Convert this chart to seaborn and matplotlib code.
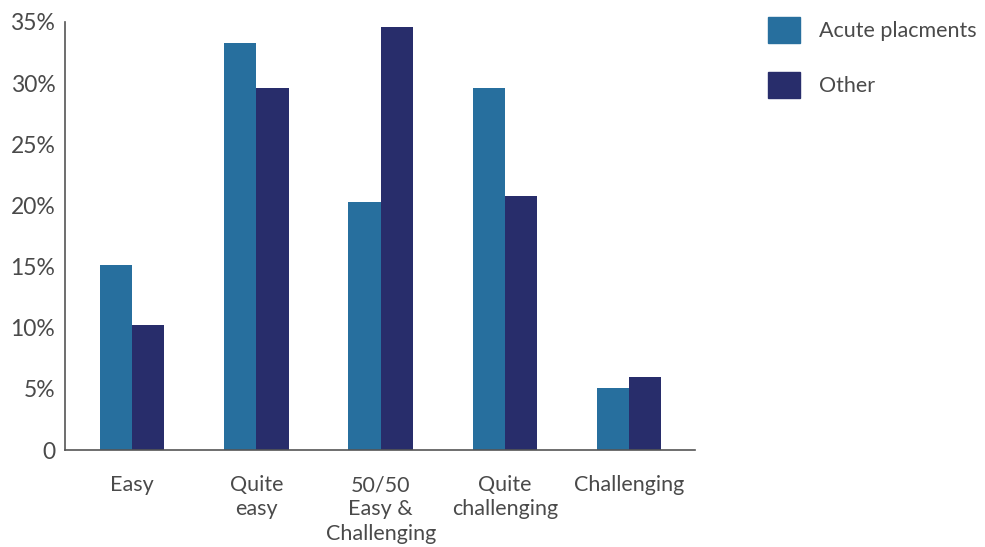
import numpy as np
import matplotlib
matplotlib.use('Agg')
import matplotlib.pyplot as plt
import seaborn as sns
import pandas as pd

categories = ['Easy', 'Quite\neasy', '50/50\nEasy &\nChallenging', 'Quite\nchallenging', 'Challenging']
acute = [15.1, 33.3, 20.3, 29.6, 5.1]
other = [10.2, 29.6, 34.6, 20.8, 6.0]
series = ['Acute placments', 'Other']
colors = ['#276f9e', '#282d6b']
yticks = [0, 5, 10, 15, 20, 25, 30, 35]
ytick_labels = ['0', '5%', '10%', '15%', '20%', '25%', '30%', '35%']

df = pd.DataFrame({
    'cat': categories * 2,
    'value': acute + other,
    'series': [series[0]] * len(categories) + [series[1]] * len(categories),
})

sns.set_style('white')
plt.rcParams['font.family'] = ['Lato', 'DejaVu Sans']
text_col = '#4a4a4a'
axis_col = '#555555'

fig = plt.figure(figsize=(9.85, 5.47), dpi=100)
ax = fig.add_axes([0.066, 0.177, 0.6396, 0.783])

sns.barplot(data=df, x='cat', y='value', hue='series', palette=colors,
            width=0.52, saturation=1, linewidth=0, ax=ax, legend=False)

ax.set_ylim(0, 35)
ax.set_xlim(-0.54, 4.53)
ax.set_yticks(yticks)
ax.set_yticklabels(ytick_labels)
ax.set_xlabel('')
ax.set_ylabel('')

for s in ['top', 'right']:
    ax.spines[s].set_visible(False)
for s in ['left', 'bottom']:
    ax.spines[s].set_color(axis_col)
    ax.spines[s].set_linewidth(1.2)

ax.tick_params(axis='y', direction='in', length=9, width=1.2, color=axis_col,
               labelsize=16.5, labelcolor=text_col, pad=7)
ax.tick_params(axis='x', length=0, labelsize=15.5, labelcolor=text_col, pad=18)
ax.set_xticks([4.53], minor=True)
ax.tick_params(axis='x', which='minor', direction='in', length=6, width=1.2, color=axis_col)
for lbl in ax.get_xticklabels():
    lbl.set_verticalalignment('top')
    lbl.set_multialignment('center')
    lbl.set_linespacing(1.26)

handles = [plt.Rectangle((0, 0), 1, 1, color=c) for c in colors]
fig.legend(handles, series, loc='upper left', bbox_to_anchor=(0.76, 1.005),
           frameon=False, fontsize=15.5, labelcolor=text_col,
           handlelength=1.5, handleheight=1.5, labelspacing=1.35, handletextpad=0.85)

fig.savefig('out.png', dpi=100)
